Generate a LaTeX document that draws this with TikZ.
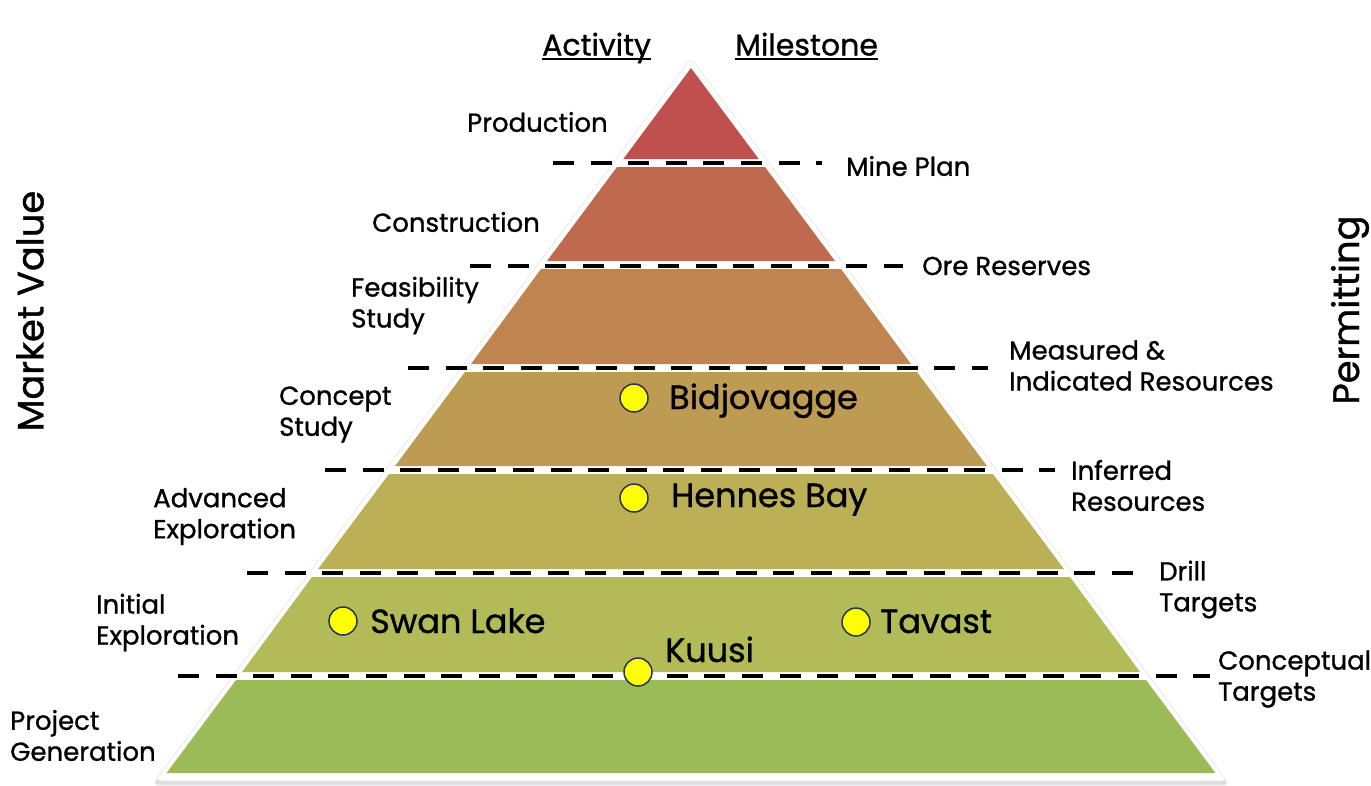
\documentclass[tikz,border=0pt]{standalone}
\usepackage{fontspec}
\setmainfont{Poppins}[FakeBold=1.0]
\definecolor{cA}{HTML}{C0504D}
\definecolor{cB}{HTML}{BF6A4E}
\definecolor{cC}{HTML}{BF844F}
\definecolor{cD}{HTML}{BE9B53}
\definecolor{cE}{HTML}{BCB056}
\definecolor{cF}{HTML}{B2BB58}
\definecolor{cG}{HTML}{9BBB59}
\definecolor{dotyellow}{HTML}{FFFF00}
\definecolor{dotedge}{HTML}{263552}
\begin{document}
\begin{tikzpicture}[x=1pt,y=-1pt,
  lbl/.style={font=\fontsize{26}{31}\selectfont, inner sep=0pt, align=left, anchor=west},
  big/.style={font=\fontsize{33.5}{38}\selectfont, inner sep=0pt, anchor=base west},
  hdr/.style={font=\fontsize{30}{34}\selectfont, inner sep=0pt, anchor=base west},
  side/.style={font=\fontsize{36.8}{42}\selectfont, inner sep=0pt, rotate=90},
  dline/.style={line width=4pt, dash pattern=on 21pt off 16.6pt},
  dot/.style={circle, fill=dotyellow, draw=dotedge, line width=1.5pt, minimum size=28pt, inner sep=0pt},
  layer/.style={draw=none}
]
\useasboundingbox (0,0) rectangle (1371,785);
% outer white triangle with soft shadow
\fill[black, opacity=0.06, rounded corners=6pt] (691,63) -- (1230,786) -- (152,786) -- cycle;
\fill[black, opacity=0.08, rounded corners=6pt] (691,62) -- (1229,784.5) -- (153,784.5) -- cycle;
\fill[white, draw=black!10, line width=0.6pt, rounded corners=6pt] (691,58) -- (1227,781) -- (155,781) -- cycle;
% layers
\fill[cA, layer] (691,68) -- (758.7,159) -- (623.3,159) -- cycle;
\fill[cB, layer] (617,167) -- (765,167) -- (835,261) -- (547,261) -- cycle;
\fill[cC, layer] (541,269) -- (841,269) -- (911,364) -- (471,364) -- cycle;
\fill[cD, layer] (465,372) -- (917,372) -- (987,466) -- (395,466) -- cycle;
\fill[cE, layer] (389,474) -- (993,474) -- (1064,569) -- (318,569) -- cycle;
\fill[cF, layer] (312,577) -- (1070,577) -- (1140,672) -- (242,672) -- cycle;
\fill[cG, layer] (236,680) -- (1146,680) -- (1215.5,773) -- (166.5,773) -- cycle;
% dashed milestone lines
\coordinate (m1a) at (553,163);   \coordinate (m1b) at (822,163);
\coordinate (m2a) at (470,265.5); \coordinate (m2b) at (903,265.5);
\coordinate (m3a) at (408,368);   \coordinate (m3b) at (988,368);
\coordinate (m4a) at (325,470);   \coordinate (m4b) at (1055,470);
\coordinate (m5a) at (247,573);   \coordinate (m5b) at (1146,573);
\coordinate (m6a) at (178,676);   \coordinate (m6b) at (1210,676);
\draw[dline] (m1a) -- (m1b);
\draw[dline] (m2a) -- (m2b);
\draw[dline] (m3a) -- (m3b);
\draw[dline] (m4a) -- (m4b);
\draw[dline] (m5a) -- (m5b);
\draw[dline] (m6a) -- (m6b);
% headers
\node[hdr] (act) at (542,55.5) {Activity};
\node[hdr] (mil) at (735,55.5) {Milestone};
\draw[line width=2pt] ([yshift=-3.8pt]act.base west) -- ([yshift=-3.8pt]act.base east);
\draw[line width=2pt] ([yshift=-3.8pt]mil.base west) -- ([yshift=-3.8pt]mil.base east);
% activity labels
\node[lbl] (a1) at (467,122) {Production};
\node[lbl] (a2) at (372,222) {Construction};
\node[lbl] (a3) at (351,305.5) {Feasibility\\Study};
\node[lbl] (a4) at (279,414.5) {Concept\\Study};
\node[lbl] (a5) at (153,516.5) {Advanced\\Exploration};
\node[lbl] (a6) at (96,622.5) {Initial\\Exploration};
\node[lbl] (a7) at (10,735.5) {Project\\Generation};
% milestone labels
\node[lbl] (b1) at (846,166) {Mine Plan};
\node[lbl] (b2) at (922,266) {Ore Reserves};
\node[lbl] (b3) at (1009,365.5) {Measured \&\\Indicated Resources};
\node[lbl] (b4) at (1071,485.5) {Inferred\\Resources};
\node[lbl] (b5) at (1159,589.5) {Drill\\Targets};
\node[lbl] (b6) at (1218,679) {Conceptual\\Targets};
% side labels
\node[side] (mv) at (30,311) {Market Value};
\node[side, anchor=base, text depth=0pt] (pm) at (1359,310) {Permitting};
% projects
\node[dot] (p1) at (634,398) {};
\node[big] (t1) at (669,409) {Bidjovagge};
\node[dot] (p2) at (634,498) {};
\node[big] (t2) at (671,507) {Hennes Bay};
\node[dot] (p3) at (343,621) {};
\node[big] (t3) at (370,633) {Swan Lake};
\node[dot] (p4) at (856,622) {};
\node[big] (t4) at (880,633) {Tavast};
\node[dot] (p5) at (638,672) {};
\node[big] (t5) at (665,662) {Kuusi};
\end{tikzpicture}
\end{document}
